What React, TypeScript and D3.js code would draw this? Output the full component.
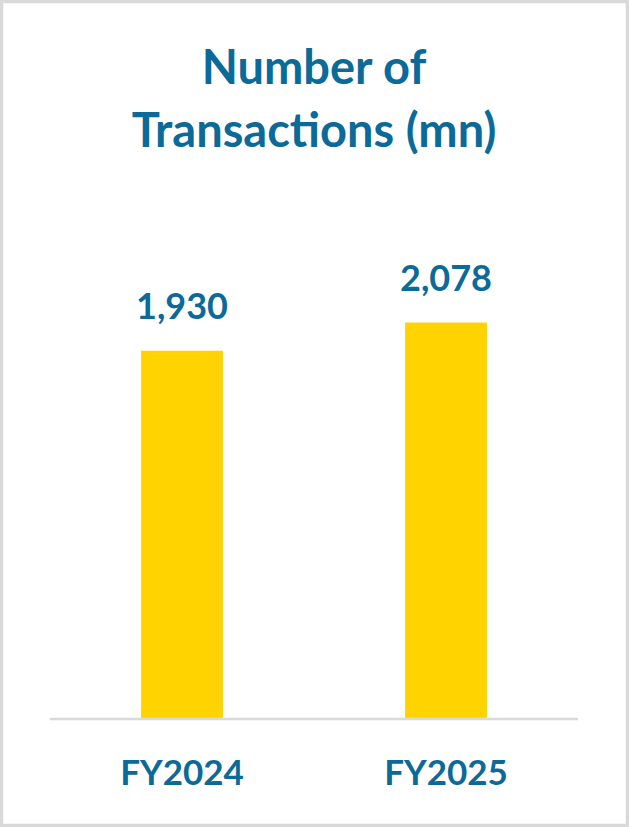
import React from "react";
import * as d3 from "d3";

const categories = ["FY2024", "FY2025"];
const values = [1930, 2078];
const titleLines = ["Number of", "Transactions (mn)"];

const W = 629;
const H = 827;
const FONT = "Lato, 'Open Sans', sans-serif";
const BLUE = "#0B6A98";
const YELLOW = "#FFD300";

export default function App() {
  const x = d3.scaleBand<string>().domain(categories).range([50, 578]).padding(0);
  const y = d3.scaleLinear().domain([0, 2500]).range([718, 718 - 2500 * 0.1903]);
  const barW = x.bandwidth() * 0.31;
  const fmt = d3.format(",");

  return (
    <svg
      width={W}
      height={H}
      style={{ position: "fixed", left: 0, top: 0, display: "block", background: "#fff" }}
    >
      <rect x={1.5} y={1.5} width={W - 3} height={H - 3} fill="#fff" stroke="#D9D9D9" strokeWidth={3.5} />
      {titleLines.map((t, i) => (
        <text
          key={t}
          x={314}
          y={84 + i * 63}
          textAnchor="middle"
          fontFamily={FONT}
          fontWeight={700}
          fontSize={47}
          fill={BLUE}
        >
          {t}
        </text>
      ))}
      {categories.map((c, i) => {
        const cx = (x(c) as number) + x.bandwidth() / 2;
        return (
          <g key={c}>
            <rect
              x={cx - barW / 2}
              y={y(values[i])}
              width={barW}
              height={y(0) - y(values[i])}
              fill={YELLOW}
            />
            <text
              x={cx}
              y={y(values[i]) - 32}
              textAnchor="middle"
              fontFamily={FONT}
              fontWeight={700}
              fontSize={36}
              fill={BLUE}
            >
              {fmt(values[i])}
            </text>
            <text
              x={cx}
              y={785}
              textAnchor="middle"
              fontFamily={FONT}
              fontWeight={700}
              fontSize={35}
              fill={BLUE}
            >
              {c}
            </text>
          </g>
        );
      })}
      <line x1={50} x2={578} y1={y(0) + 1} y2={y(0) + 1} stroke="#D9D9D9" strokeWidth={2.5} />
    </svg>
  );
}
